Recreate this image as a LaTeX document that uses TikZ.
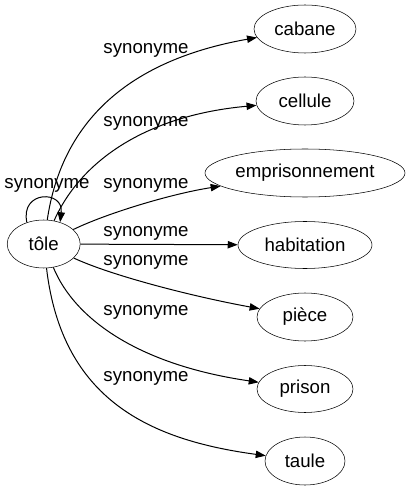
\documentclass[tikz,border=0pt]{standalone}
\usepackage{fontspec}
\setmainfont{Liberation Sans}
\usetikzlibrary{shapes.geometric,arrows.meta}
\begin{document}
\begin{tikzpicture}[x=0.75pt,y=-0.75pt,
  word/.style={draw,ellipse,inner sep=0pt,font=\fontsize{14pt}{16pt}\selectfont},
  rel/.style={font=\fontsize{14pt}{16pt}\selectfont,inner sep=0pt},
  link/.style={-{Triangle[length=7.5pt,width=5.5pt]},line width=0.75pt}]
\useasboundingbox (0,0) rectangle (411,491);
\node[word,minimum width=73*0.75pt,minimum height=48*0.75pt] (tole) at (43.7,244) {tôle};
\node[word,minimum width=102*0.75pt,minimum height=48*0.75pt] (cabane) at (305,29) {cabane};
\node[word,minimum width=98*0.75pt,minimum height=48*0.75pt] (cellule) at (305,101) {cellule};
\node[word,minimum width=200*0.75pt,minimum height=48*0.75pt] (empr) at (305,173) {emprisonnement};
\node[word,minimum width=134*0.75pt,minimum height=47*0.75pt] (habit) at (305,245) {habitation};
\node[word,minimum width=96*0.75pt,minimum height=48*0.75pt] (piece) at (305,317) {pièce};
\node[word,minimum width=96*0.75pt,minimum height=47*0.75pt] (prison) at (305,389) {prison};
\node[word,minimum width=80*0.75pt,minimum height=48*0.75pt] (taule) at (305,461) {taule};

\draw[link] (tole.128) .. controls (20,190) and (64,190) .. (tole.53);
\draw[link] (tole) .. controls (62,120) and (130,60) .. (cabane);
\draw[link] (tole) .. controls (82,158) and (150,115) .. (cellule);
\draw[link] (tole) .. controls (105,214) and (170,194) .. (empr);
\draw[link] (tole) -- (habit);
\draw[link] (tole) .. controls (110,275) and (190,296) .. (piece);
\draw[link] (tole) .. controls (75,320) and (140,365) .. (prison);
\draw[link] (tole) .. controls (62,400) and (150,440) .. (taule);

\node[rel] (l0) at (47,185) {synonyme};
\node[rel] (l1) at (146,50) {synonyme};
\node[rel] (l2) at (146,123) {synonyme};
\node[rel] (l3) at (146,185) {synonyme};
\node[rel] (l4) at (146,233) {synonyme};
\node[rel] (l5) at (146,262) {synonyme};
\node[rel] (l6) at (146,312) {synonyme};
\node[rel] (l7) at (146,378) {synonyme};
\end{tikzpicture}
\end{document}
